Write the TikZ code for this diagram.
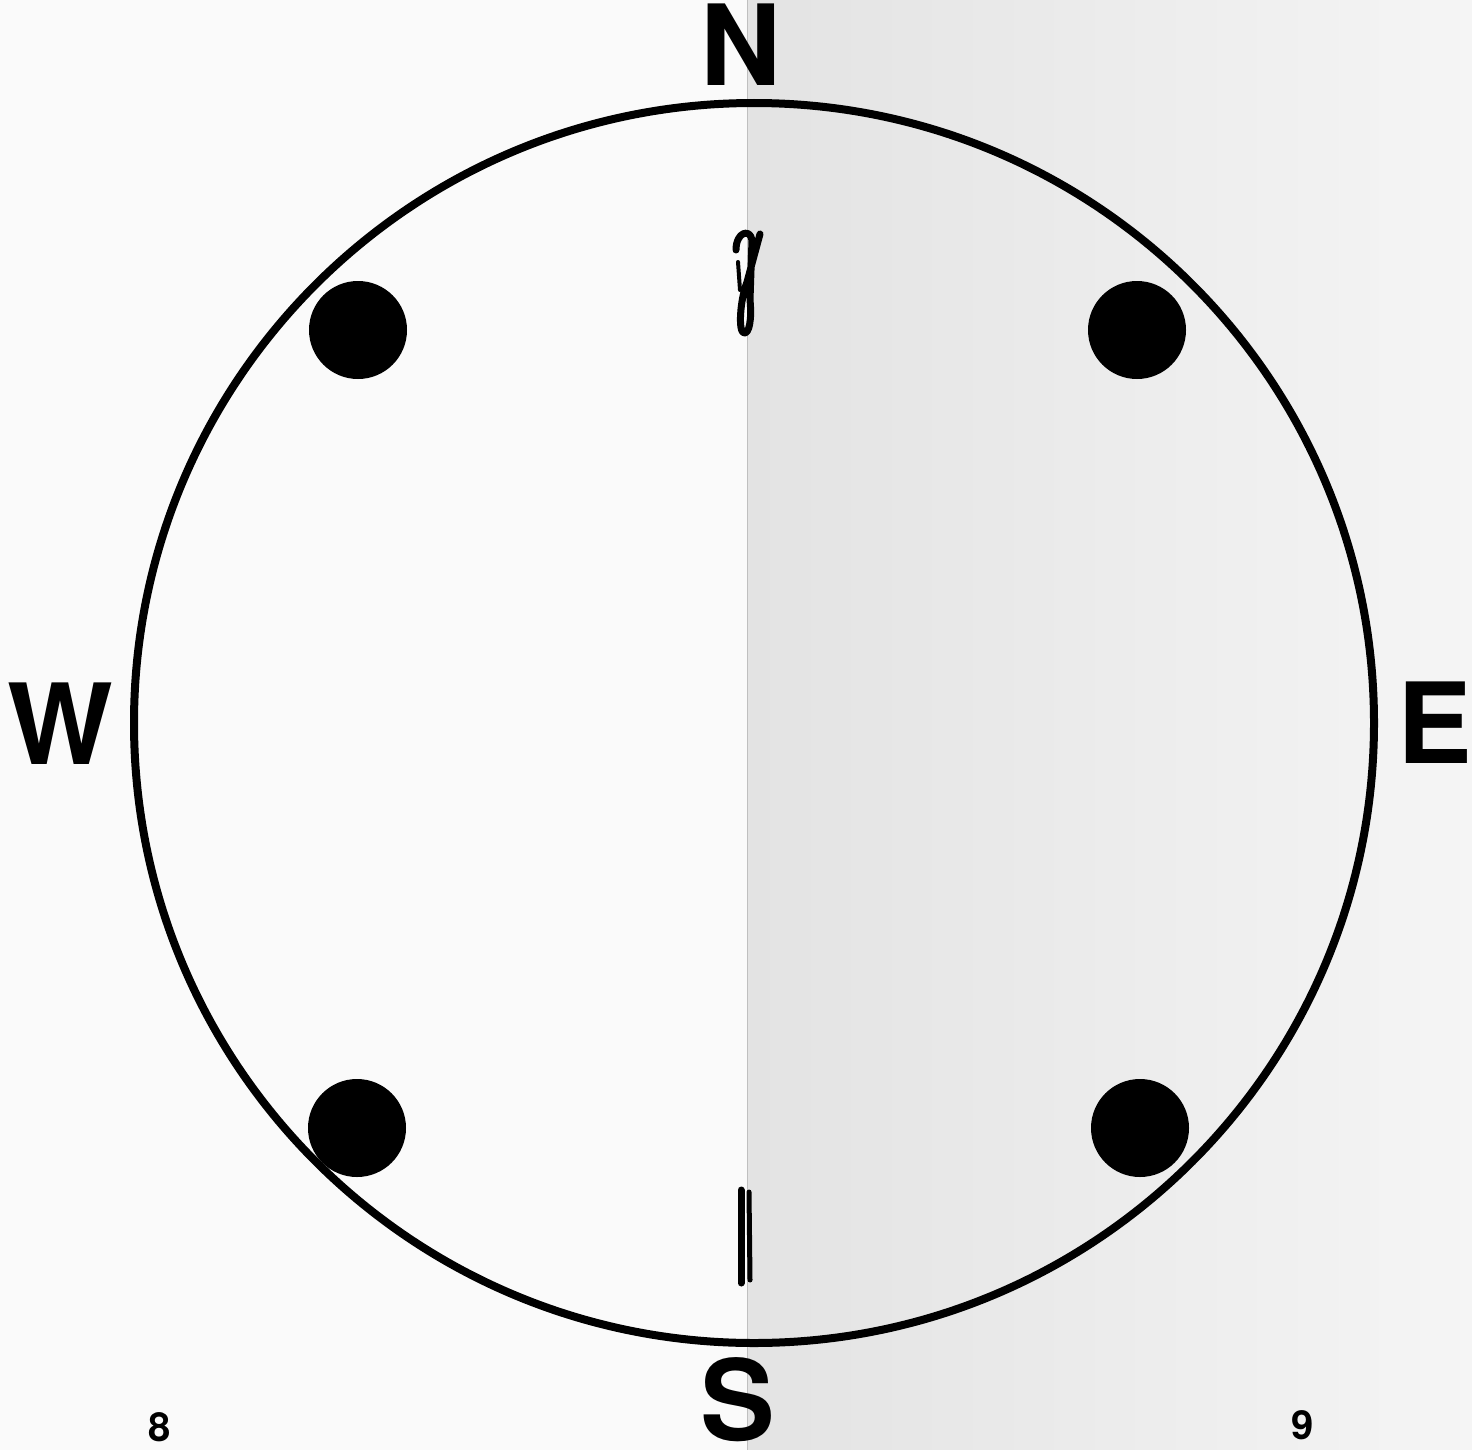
\documentclass[tikz,border=0pt]{standalone}
\usepackage{fontspec}
\newfontfamily\compassfont{TeX Gyre Heros}
\tikzset{
  dir/.style={font=\compassfont\bfseries\fontsize{56}{56}\selectfont, inner sep=0pt, text depth=0pt},
  pagenum/.style={font=\compassfont\bfseries\fontsize{20}{20}\selectfont, inner sep=0pt, text depth=0pt},
  spot/.style={circle, fill=black, minimum size=49pt, inner sep=0pt},
  staple/.style={line width=3pt, line cap=round, line join=round, black}
}
\begin{document}
\begin{tikzpicture}[x=0.5pt,y=-0.5pt]
\useasboundingbox (0,0) rectangle (1472,1450);
% pages
\fill[white!98!black] (0,0) rectangle (747,1450);
\shade[left color=black!11, right color=black!4] (747,0) rectangle (1472,1450);
\draw[black!25, line width=0.5pt] (747,0) -- (747,1450);
% circle
\coordinate (c) at (754,723);
\draw[line width=4pt] (c) circle [radius=620];
% spots
\node[spot] (nw) at (358,330) {};
\node[spot] (ne) at (1137,330) {};
\node[spot] (sw) at (357,1128) {};
\node[spot] (se) at (1140,1128) {};
% compass letters
\node[dir] (N) at (741,45) {N};
\node[dir] (S) at (738,1399) {S};
\node[dir] (W) at (60,724) {W};
\node[dir] (E) at (1435,723) {E};
% staples
\draw[staple, line width=3.5pt] (736,250) .. controls (736,232) and (750,228) .. (752,240) -- (750,300) .. controls (752,320) and (749,334) .. (744,333) .. controls (738,332) and (740,300) .. (747,282) -- (760,234);
\draw[staple, line width=2pt] (738,262) -- (740,290);
\draw[staple, line width=3.5pt] (741,1190) -- (741,1283);
\draw[staple, line width=2.5pt] (749,1192) -- (750,1280);
% page numbers
\node[pagenum] (p8) at (160,1427) {8};
\node[pagenum] (p9) at (1303,1425) {9};
\end{tikzpicture}
\end{document}
